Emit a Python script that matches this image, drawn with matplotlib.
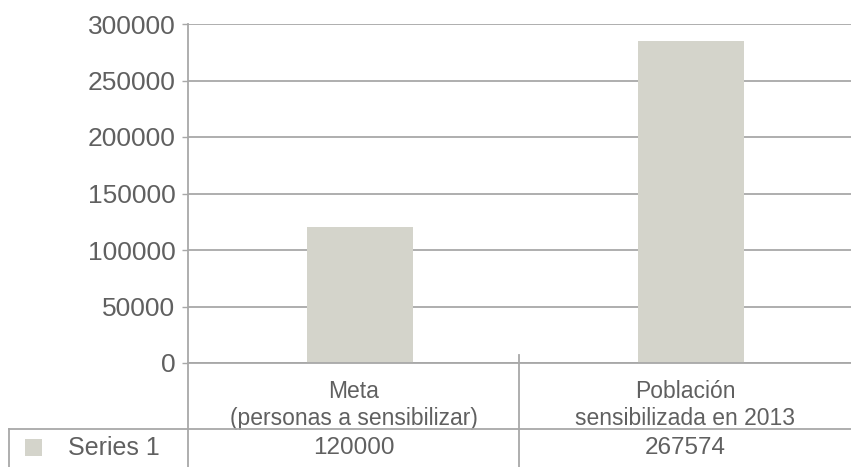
import matplotlib
matplotlib.use("Agg")
import numpy as np
import matplotlib.pyplot as plt
import matplotlib.transforms as mtransforms
from matplotlib.lines import Line2D
from matplotlib.patches import Rectangle

# data
categories = ["Meta\n(personas a sensibilizar)", "Población\nsensibilizada en 2013"]
bar_heights = [120000, 285000]          # as drawn
table_values = ["120000", "267574"]     # as written in the data table
series_name = "Series 1"
yticks = [0, 50000, 100000, 150000, 200000, 250000, 300000]

bar_color = "#d4d4cb"
grid_color = "#a8a8a8"
text_color = "#606060"

plt.rcParams['font.family'] = ['Liberation Sans', 'DejaVu Sans']

W, H = 851, 467
fig = plt.figure(figsize=(W / 100, H / 100), dpi=100)


def px(x, y):
    # pixel coords (from top-left) -> figure fraction
    return x / W, 1 - y / H


ax_left, ax_top, ax_right, ax_bottom = 188, 24, 851, 363
ax = fig.add_axes([ax_left / W, 1 - ax_bottom / H, (ax_right - ax_left) / W, (ax_bottom - ax_top) / H])

x = np.arange(len(categories))
ax.bar(x + 0.018, bar_heights, width=0.32, color=bar_color, zorder=2)

ax.set_xlim(-0.5, 1.5)
ax.set_ylim(0, 300000)
ax.set_yticks(yticks)
ax.set_yticklabels([str(v) for v in yticks], fontsize=19, color=text_color)
ax.yaxis.grid(True, color=grid_color, linewidth=1.3, zorder=0)
ax.tick_params(axis='y', length=4, width=1.0, color=grid_color, pad=5)

ax.set_xticks(x)
ax.set_xticklabels(categories, fontsize=16.5, color=text_color, linespacing=1.25)
ax.tick_params(axis='x', length=0, pad=12)

for s in ['top', 'right']:
    ax.spines[s].set_visible(False)
ax.spines['left'].set_color(grid_color)
ax.spines['left'].set_linewidth(1.3)
ax.spines['bottom'].set_color(grid_color)
ax.spines['bottom'].set_linewidth(1.3)

# table lines
def fig_line(x0, y0, x1, y1):
    (a, b), (c, d) = px(x0, y0), px(x1, y1)
    fig.add_artist(Line2D([a, c], [b, d], color=grid_color, linewidth=1.3))

fig_line(188, 363, 188, 467)   # y-axis carried down
fig_line(519, 355, 519, 467)   # divider between categories
fig_line(9, 429, 851, 429)     # top of series row
fig_line(9, 429, 9, 467)       # left border of series row

# series row
sx, sy = px(25, 456)
fig.add_artist(Rectangle((sx, sy), 17 / W, 17 / H, transform=fig.transFigure,
                         facecolor=bar_color, edgecolor='none'))
fig.text(*px(68, 448), series_name, fontsize=18, color=text_color, va='center', ha='left')

trans = mtransforms.blended_transform_factory(ax.transData, fig.transFigure)
for xi, val in zip(x, table_values):
    fig.text(xi, px(0, 448)[1], val, transform=trans, fontsize=17.5,
             color=text_color, ha='center', va='center')

fig.savefig("out.png", dpi=100)
